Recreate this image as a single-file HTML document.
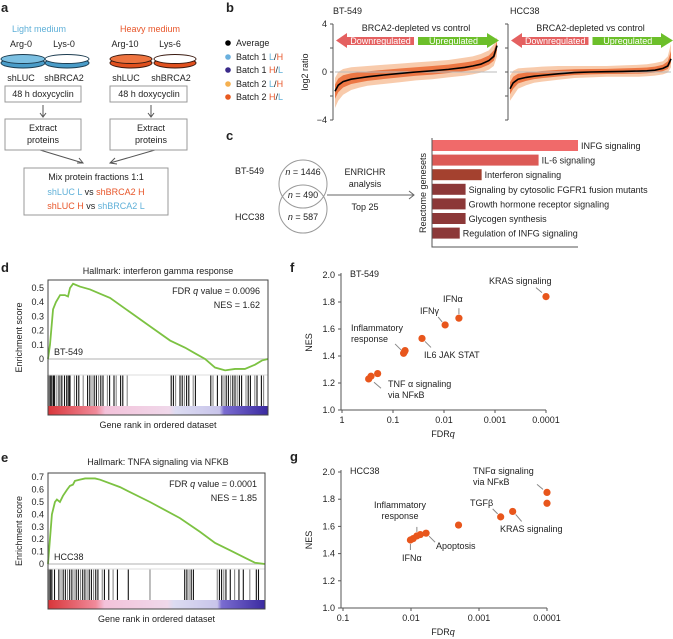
<!DOCTYPE html>
<html><head><meta charset="utf-8"><style>
body{margin:0;background:#fff}
svg{display:block;font-family:"Liberation Sans",Arial,sans-serif;font-size:9px;fill:#222}
.lbl{font-weight:bold;font-size:13px}
</style></head><body>
<svg id="fig" width="673" height="639" viewBox="0 0 673 639">
<g>
<text class="lbl" x="1" y="12">a</text>
<text x="39" y="32" text-anchor="middle" style="fill:#5fb0d8">Light medium</text>
<text x="150" y="32" text-anchor="middle" style="fill:#e8562a">Heavy medium</text>
<text x="21" y="47" text-anchor="middle">Arg-0</text>
<text x="64" y="47" text-anchor="middle">Lys-0</text>
<text x="125" y="47" text-anchor="middle">Arg-10</text>
<text x="170" y="47" text-anchor="middle">Lys-6</text>
<g><ellipse cx="23" cy="63" rx="22" ry="5" fill="#4a9cc8" stroke="#1c3c50"/><ellipse cx="23" cy="59" rx="22" ry="4.5" fill="#7cc0e2" stroke="#1c3c50"/></g>
<g><ellipse cx="67" cy="63" rx="22" ry="5" fill="#4a9cc8" stroke="#1c3c50"/><ellipse cx="67" cy="59" rx="22" ry="4.5" fill="#fff" stroke="#1c3c50"/></g>
<g><ellipse cx="131" cy="63" rx="21" ry="5" fill="#e0501e" stroke="#3a1a10"/><ellipse cx="131" cy="59" rx="21" ry="4.5" fill="#ee7440" stroke="#3a1a10"/></g>
<g><ellipse cx="175" cy="63" rx="21" ry="5" fill="#e0501e" stroke="#3a1a10"/><ellipse cx="175" cy="59" rx="21" ry="4.5" fill="#fff" stroke="#3a1a10"/></g>
<text x="21" y="81" text-anchor="middle">shLUC</text>
<text x="64" y="81" text-anchor="middle">shBRCA2</text>
<text x="126" y="81" text-anchor="middle">shLUC</text>
<text x="171" y="81" text-anchor="middle">shBRCA2</text>
<rect x="5" y="86" width="76" height="16" fill="none" stroke="#999"/>
<text x="43" y="97" text-anchor="middle">48 h doxycyclin</text>
<rect x="110" y="86" width="77" height="16" fill="none" stroke="#999"/>
<text x="149" y="97" text-anchor="middle">48 h doxycyclin</text>
<g stroke="#555" fill="none">
<path d="M43 105V117M40 113L43 117L46 113"/><path d="M151 105V117M148 113L151 117L154 113"/>
<path d="M40 150L83 163M77 163L83 163L79 158"/><path d="M155 150L110 163M115 158L110 163L117 164"/>
</g>
<rect x="5" y="119" width="76" height="31" fill="none" stroke="#999"/>
<text x="43" y="131" text-anchor="middle">Extract</text>
<text x="43" y="143" text-anchor="middle">proteins</text>
<rect x="110" y="119" width="77" height="31" fill="none" stroke="#999"/>
<text x="151" y="131" text-anchor="middle">Extract</text>
<text x="151" y="143" text-anchor="middle">proteins</text>
<rect x="24" y="168" width="144" height="47" fill="none" stroke="#999"/>
<text x="96" y="180" text-anchor="middle">Mix protein fractions 1:1</text>
<text x="96" y="195" text-anchor="middle"><tspan style="fill:#5fb0d8">shLUC L</tspan> vs <tspan style="fill:#e8562a">shBRCA2 H</tspan></text>
<text x="96" y="209" text-anchor="middle"><tspan style="fill:#e8562a">shLUC H</tspan> vs <tspan style="fill:#5fb0d8">shBRCA2 L</tspan></text>
</g>
<g>
<text class="lbl" x="226" y="12">b</text>
<g>
<circle cx="228" cy="43" r="2.8" fill="#000"/><text x="236" y="46">Average</text>
<circle cx="228" cy="57" r="2.8" fill="#6ab0de"/><text x="236" y="60">Batch 1 <tspan style="fill:#5fb0d8">L</tspan>/<tspan style="fill:#e8562a">H</tspan></text>
<circle cx="228" cy="70" r="2.8" fill="#3a2a8a"/><text x="236" y="73">Batch 1 <tspan style="fill:#e8562a">H</tspan>/<tspan style="fill:#5fb0d8">L</tspan></text>
<circle cx="228" cy="84" r="2.8" fill="#f5b050"/><text x="236" y="87">Batch 2 <tspan style="fill:#5fb0d8">L</tspan>/<tspan style="fill:#e8562a">H</tspan></text>
<circle cx="228" cy="97" r="2.8" fill="#e85a20"/><text x="236" y="100">Batch 2 <tspan style="fill:#e8562a">H</tspan>/<tspan style="fill:#5fb0d8">L</tspan></text>
</g>
<text x="308" y="72" transform="rotate(-90 308 72)" text-anchor="middle">log2 ratio</text>
<text x="333" y="14">BT-549</text>
<text x="510" y="14">HCC38</text>
<g id="bplots"></g>
</g>
<g>
<text class="lbl" x="226" y="140">c</text>
<text x="235" y="174">BT-549</text>
<text x="235" y="220">HCC38</text>
<circle cx="303" cy="184" r="24" fill="none" stroke="#999"/>
<circle cx="303" cy="209" r="24" fill="none" stroke="#999"/>
<text x="303" y="175" text-anchor="middle"><tspan font-style="italic">n</tspan> = 1446</text>
<text x="303" y="198" text-anchor="middle"><tspan font-style="italic">n</tspan> = 490</text>
<text x="303" y="220" text-anchor="middle"><tspan font-style="italic">n</tspan> = 587</text>
<path d="M327 195H414M409 191L414 195L409 199" stroke="#666" fill="none"/>
<text x="365" y="175" text-anchor="middle">ENRICHR</text>
<text x="365" y="187" text-anchor="middle">analysis</text>
<text x="365" y="210" text-anchor="middle">Top 25</text>
<text x="426" y="193" transform="rotate(-90 426 193)" text-anchor="middle">Reactome genesets</text>
<g id="cbars"></g>
</g>
<text class="lbl" x="1" y="272">d</text>
<text x="158" y="274" text-anchor="middle">Hallmark: interferon gamma response</text>
<g id="dplot"></g>
<text class="lbl" x="1" y="462">e</text>
<text x="158" y="465" text-anchor="middle">Hallmark: TNFA signaling via NFKB</text>
<g id="eplot"></g>
<text class="lbl" x="290" y="272">f</text>
<g id="fplot"></g>
<text class="lbl" x="290" y="461">g</text>
<g id="gplot"></g>
</svg>
<script>
// ---- Panel b data ----
const bRank = [0,0.02,0.05,0.1,0.15,0.2,0.3,0.4,0.5,0.6,0.7,0.8,0.85,0.9,0.95,0.98,1];
const btAvg = [-1.6,-1.1,-0.8,-0.6,-0.5,-0.4,-0.25,-0.12,0,0.1,0.22,0.38,0.5,0.65,0.95,1.3,2.2];
const btLo = [-3.0,-2.4,-1.9,-1.5,-1.3,-1.15,-1.0,-0.85,-0.7,-0.6,-0.45,-0.3,-0.2,-0.05,0.2,0.5,1.3];
const btHi = [-0.5,0.0,0.25,0.4,0.45,0.5,0.6,0.7,0.8,0.9,1.0,1.2,1.3,1.5,1.8,2.3,2.9];
const hcAvg = [-1.4,-0.9,-0.6,-0.45,-0.35,-0.28,-0.15,-0.05,0,0.03,0.05,0.08,0.1,0.15,0.3,0.5,1.1];
const hcLo = [-2.4,-2.0,-1.4,-1.1,-0.9,-0.8,-0.65,-0.5,-0.45,-0.4,-0.4,-0.4,-0.35,-0.3,-0.2,-0.05,0.4];
const hcHi = [-0.3,0.1,0.3,0.35,0.4,0.45,0.5,0.5,0.5,0.5,0.55,0.6,0.65,0.75,0.9,1.3,2.4];
const bTicks = [4,2,0,-2,-4];
const bTickLabels = ['4','','0','','\u22124'];

// ---- Panel c data ----
const cCats = ['INFG signaling','IL-6 signaling','Interferon signaling','Signaling by cytosolic FGFR1 fusion mutants','Growth hormone receptor signaling','Glycogen synthesis','Regulation of INFG signaling'];
const cVals = [10,7.3,3.4,2.3,2.3,2.3,1.9];
const cColors = ['#f06a6a','#dc5a56','#a4412f','#8c3838','#8c3838','#8c3838','#8c3838'];

// ---- Panel d/e data ----
const dRank = [0,.009,.023,.036,.055,.077,.091,.1,.114,.145,.191,.236,.282,.373,.464,.555,.623,.668,.714,.759,.805,.85,.895,.941,.973,1];
const dES = [0,0.1,0.35,0.4,0.45,0.45,0.44,0.5,0.53,0.51,0.49,0.46,0.43,0.33,0.23,0.13,0.08,0.04,0,-0.06,-0.08,-0.07,-0.07,-0.04,-0.01,0];
const dHits = [0,.005,.01,.015,.02,.025,.03,.04,.05,.06,.065,.075,.085,.09,.095,.1,.12,.13,.14,.16,.18,.19,.2,.21,.22,.23,.24,.25,.27,.28,.3,.31,.33,.34,.36,.56,.57,.58,.6,.61,.62,.63,.64,.66,.67,.74,.75,.77,.79,.8,.81,.82,.83,.84,.85,.86,.87,.88,.9,.91,.92,.94,.95,.97,.98];
const dTicks = [0,0.1,0.2,0.3,0.4,0.5];
const eRank = [0,.009,.018,.032,.041,.055,.069,.088,.101,.115,.124,.147,.171,.217,.24,.332,.47,.608,.7,.77,.839,.908,.954,1];
const eES = [0,0.2,0.4,0.5,0.52,0.5,0.55,0.6,0.63,0.64,0.67,0.68,0.69,0.69,0.68,0.62,0.5,0.37,0.26,0.17,0.11,0.05,0.01,0];
const eHits = [0,.005,.01,.015,.02,.03,.05,.06,.07,.08,.09,.1,.11,.12,.13,.14,.15,.16,.17,.18,.19,.2,.21,.22,.23,.25,.26,.28,.3,.32,.37,.47,.63,.64,.65,.66,.67,.78,.79,.8,.81,.82,.84,.86,.88,.9,.93,.96,.97];
const eTicks = [0,0.1,0.2,0.3,0.4,0.5,0.6,0.7];

// ---- Panel f/g data ----
const fNames = ['KRAS signaling','IFN\u03b1','IFN\u03b3','IL6 JAK STAT','Inflammatory response','Inflammatory b','Inflammatory c','TNF\u03b1 a','TNF\u03b1 b','TNF\u03b1 c'];
const fFDR = [0.0001,0.0051,0.0095,0.027,0.058,0.06,0.062,0.2,0.27,0.3];
const fNES = [1.84,1.68,1.63,1.53,1.44,1.43,1.42,1.27,1.25,1.23];
const gNames = ['TNF\u03b1 a','TNF\u03b1 b','KRAS signaling','TGF\u03b2','other','c1','c2','c3','c4','c5'];
const gFDR = [0.0001,0.0001,0.00032,0.00048,0.002,0.0102,0.0093,0.0082,0.0073,0.006];
const gNES = [1.85,1.77,1.71,1.67,1.61,1.50,1.51,1.53,1.54,1.55];
const nesTicks = [1.0,1.2,1.4,1.6,1.8,2.0];
const fXTicks = [1,0.1,0.01,0.001,0.0001];
const fXLabels = ['1','0.1','0.01','0.001','0.0001'];
const gXTicks = [0.1,0.01,0.001,0.0001];
const gXLabels = ['0.1','0.01','0.001','0.0001'];

const NS='http://www.w3.org/2000/svg';
function mk(tag,attrs,parent){const e=document.createElementNS(NS,tag);for(const k in attrs)e.setAttribute(k,attrs[k]);parent.appendChild(e);return e;}
function txt(str,attrs,parent){const e=mk('text',attrs,parent);e.textContent=str;return e;}

function bPanel(g,x0,x1,avg,lo,hi,withLabels){
  const xs=r=>x0+r*(x1-x0), ys=v=>72-v*12;
  const ax=mk('path',{d:`M${x0-2} 24V120`,stroke:'#555',fill:'none'},g);
  
  
  bTicks.forEach((t,i)=>{
    const tk=mk('path',{d:`M${x0-5} ${ys(t)}H${x0-2}`,stroke:'#555'},g);
    
    
    if(withLabels&&bTickLabels[i]){const l=txt(bTickLabels[i],{x:x0-8,y:ys(t)+3,'text-anchor':'end'},g);
      
      }
  });
  let outer='',inner='';
  bRank.forEach((r,i)=>{outer+=(i?'L':'M')+xs(r)+' '+ys(hi[i]);});
  for(let i=bRank.length-1;i>=0;i--)outer+='L'+xs(bRank[i])+' '+ys(lo[i]);
  const band=mk('path',{d:outer+'Z',fill:'#f3a874',opacity:'0.6'},g);
  
  
  bRank.forEach((r,i)=>{inner+=(i?'L':'M')+xs(r)+' '+ys(avg[i]+(hi[i]-avg[i])*0.5);});
  for(let i=bRank.length-1;i>=0;i--)inner+='L'+xs(bRank[i])+' '+ys(avg[i]-(avg[i]-lo[i])*0.45);
  const band2=mk('path',{d:inner+'Z',fill:'#e8622a',opacity:'0.8'},g);
  
  
  const zl=mk('path',{d:`M${x0} ${ys(0)}H${x1}`,stroke:'#bbb'},g);
  
  
  let ld='';bRank.forEach((r,i)=>{ld+=(i?'L':'M')+xs(r)+' '+ys(avg[i]);});
  const line=mk('path',{d:ld,stroke:'#000','stroke-width':1.6,fill:'none'},g);
  
  
  const mid=(x0+x1)/2;
  const t=txt('BRCA2-depleted vs control',{x:mid,y:31,'text-anchor':'middle'},g);
  
  
  const ra=mk('path',{d:`M${x0+1} 40.5L${x0+12} 33V37H${mid-2}V45H${x0+12}V48Z`,fill:'#e46060'},g);
  
  
  const ga=mk('path',{d:`M${x1+2} 40.5L${x1-10} 33V37H${mid+2}V45H${x1-10}V48Z`,fill:'#6cbf2a'},g);
  
  
  const dt=txt('Downregulated',{x:(x0+mid)/2+5,y:44,'text-anchor':'middle',style:'fill:#fff'},g);
  
  
  const ut=txt('Upregulated',{x:(mid+x1)/2-3,y:44,'text-anchor':'middle',style:'fill:#fff'},g);
  
  
}
const bp=document.getElementById('bplots');
bPanel(bp,335,497,btAvg,btLo,btHi,true);
bPanel(bp,510,671,hcAvg,hcLo,hcHi,false);

const cg=document.getElementById('cbars');
const cx=v=>432+v*14.6;
cCats.forEach((c,i)=>{
  const y=140+i*14.6;
  const r=mk('rect',{x:432,y:y,width:cx(cVals[i])-432,height:11,fill:cColors[i]},cg);
  
  
  const t=txt(c,{x:cx(cVals[i])+3,y:y+9},cg);
  
  
});
const cax=mk('path',{d:'M432 138V247H578',stroke:'#555',fill:'none'},cg);



function gsea(g,box,ticks,rank,es,hits,yZero,perTick,fdrTxt,nesTxt,cell){
  const [x0,y0,x1,y1,bcTop,gradTop]=box;
  const xs=r=>x0+r*(x1-x0), ys=v=>yZero-v/0.1*perTick;
  const id='grad'+cell;
  const defs=mk('defs',{},g);
  const lg=mk('linearGradient',{id:id},defs);
  [['0','#d8363a'],['0.22','#f08a9a'],['0.26','#f3c2da'],['0.55','#f0d8ea'],['0.58','#dcdcf2'],['0.78','#c8c4ea'],['0.8','#7a6cd0'],['1','#3a2aa0']].forEach(s=>mk('stop',{offset:s[0],'stop-color':s[1]},lg));
  const gr=mk('rect',{x:x0,y:gradTop,width:x1-x0,height:y1-gradTop,fill:`url(#${id})`},g);
  
  
  hits.forEach((h,i)=>{
    const l=mk('line',{x1:xs(h),x2:xs(h),y1:bcTop,y2:gradTop,stroke:i%3==1?'#888':'#111','stroke-width':1.1},g);
    
    
  });
  const zl=mk('path',{d:`M${x0} ${ys(0)}H${x1}`,stroke:'#ccc','stroke-width':1.5},g);
  
  
  const sep=mk('path',{d:`M${x0} ${bcTop}H${x1}`,stroke:'#ddd'},g);
  
  
  let d='';rank.forEach((r,i)=>{d+=(i?'L':'M')+xs(r)+' '+ys(es[i]);});
  const c=mk('path',{d:d,stroke:'#7cc242','stroke-width':1.8,fill:'none'},g);
  
  
  const fr=mk('rect',{x:x0,y:y0,width:x1-x0,height:y1-y0,fill:'none',stroke:'#444'},g);
  
  
  ticks.forEach(t=>{
    const l=txt(String(t),{x:x0-4,y:ys(t)+3,'text-anchor':'end'},g);
    
    
  });
  const yt=txt('Enrichment score',{x:22,y:(y0+y1)/2-10,'text-anchor':'middle',transform:`rotate(-90 22 ${(y0+y1)/2-10})`},g);
  
  
  const xt=txt('Gene rank in ordered dataset',{x:(x0+x1)/2,y:y1+13,'text-anchor':'middle'},g);
  
  
  const f=txt('',{x:x1-8,y:y0+14,'text-anchor':'end'},g);
  f.innerHTML='FDR <tspan font-style="italic">q</tspan> value = '+fdrTxt;
  
  
  const n=txt('NES = '+nesTxt,{x:x1-8,y:y0+28,'text-anchor':'end'},g);
  
  
  const cl=txt(cell,{x:x0+6,y:ys(0)-4},g);
  
  
}
gsea(document.getElementById('dplot'),[48,280,268,415,375,406],dTicks,dRank,dES,dHits,359,14.2,'0.0096','1.62','BT-549');
gsea(document.getElementById('eplot'),[48,473,265,609,569,600],eTicks,eRank,eES,eHits,564,12.4,'0.0001','1.85','HCC38');

function nesPlot(g,xq0,dec,yTop,yBot,xT,xL,fdr,nes,cell,xmax){
  const xs=q=>xq0+dec*(-Math.log10(q))-dec*(-Math.log10(xT[0])), ys=v=>yBot-(v-1)/1*(yBot-yTop);
  const ax=mk('path',{d:`M341 ${yTop-2}V${yBot}H${xmax}`,stroke:'#555',fill:'none'},g);
  
  
  nesTicks.forEach(t=>{
    const tk=mk('path',{d:`M338 ${ys(t)}H341`,stroke:'#555'},g);
    
    
    const l=txt(t.toFixed(1),{x:335,y:ys(t)+3,'text-anchor':'end'},g);
    
    
  });
  xT.forEach((t,i)=>{
    const tk=mk('path',{d:`M${xs(t)} ${yBot}V${yBot+3}`,stroke:'#555'},g);
    
    
    const l=txt(xL[i],{x:xs(t),y:yBot+13,'text-anchor':'middle'},g);
    
    
  });
  const xt=txt('',{x:443,y:yBot+27,'text-anchor':'middle'},g);
  xt.innerHTML='FDR<tspan font-style="italic">q</tspan>';
  
  
  const yt=txt('NES',{x:312,y:(yTop+yBot)/2,'text-anchor':'middle',transform:`rotate(-90 312 ${(yTop+yBot)/2})`},g);
  
  
  const cl=txt(cell,{x:350,y:yTop+2},g);
  
  
  fdr.forEach((q,i)=>{
    const p=mk('circle',{cx:xs(q),cy:ys(nes[i]),r:3.6,fill:'#e8561c'},g);
    
    
  });
  return {xs,ys};
}
const fg=document.getElementById('fplot');
const F=nesPlot(fg,342,51,275,410,fXTicks,fXLabels,fFDR,fNES,'BT-549',546);
const gg=document.getElementById('gplot');
const G=nesPlot(gg,343,68,472,608,gXTicks,gXLabels,gFDR,gNES,'HCC38',547);
function ann(g,lines,x,y,lx1,ly1,lx2,ly2,anchor){
  lines.forEach((s,i)=>{const t=txt(s,{x:x,y:y+i*11,'text-anchor':anchor||'start'},g);
    
    });
  const l=mk('line',{x1:lx1,y1:ly1,x2:lx2,y2:ly2,stroke:'#888'},g);
  
  
}
let px=F.xs(fFDR[0]),py=F.ys(fNES[0]);
ann(fg,['KRAS signaling'],489,284,px-4,py-4,px-10,py-9);
px=F.xs(fFDR[1]);py=F.ys(fNES[1]);ann(fg,['IFN\u03b1'],443,302,px,py-4,px,py-10);
px=F.xs(fFDR[2]);py=F.ys(fNES[2]);ann(fg,['IFN\u03b3'],420,314,px-3,py-3,px-7,py-8);
px=F.xs(fFDR[3]);py=F.ys(fNES[3]);ann(fg,['IL6 JAK STAT'],424,358,px+3,py+3,px+9,py+9);
px=F.xs(fFDR[4]);py=F.ys(fNES[5]);ann(fg,['Inflammatory','response'],351,331,px-4,py-2,px-10,py-8);
px=F.xs(fFDR[8]);py=F.ys(fNES[8]);ann(fg,['TNF \u03b1 signaling','via NF\u03baB'],388,387,px+3,py+6,px+10,py+12);
px=G.xs(gFDR[0]);py=G.ys(gNES[0]);ann(gg,['TNF\u03b1 signaling','via NF\u03baB'],473,474,px-4,py-3,px-10,py-8);
px=G.xs(gFDR[3]);py=G.ys(gNES[3]);ann(gg,['TGF\u03b2'],470,506,px-3,py-3,px-8,py-8);
px=G.xs(gFDR[2]);py=G.ys(gNES[2]);ann(gg,['KRAS signaling'],500,532,px+3,py+3,px+9,py+10);
px=G.xs(gFDR[7]);py=G.ys(gNES[7]);ann(gg,['Inflammatory','response'],400,508,px,py-4,px,py-9,'middle');
px=G.xs(gFDR[9]);py=G.ys(gNES[9]);ann(gg,['Apoptosis'],436,549,px+3,py+3,px+9,py+9);
px=G.xs(gFDR[5]);py=G.ys(gNES[5]);ann(gg,['IFN\u03b1'],402,561,px,py+4,px,py+10);
</script>
</body></html>
